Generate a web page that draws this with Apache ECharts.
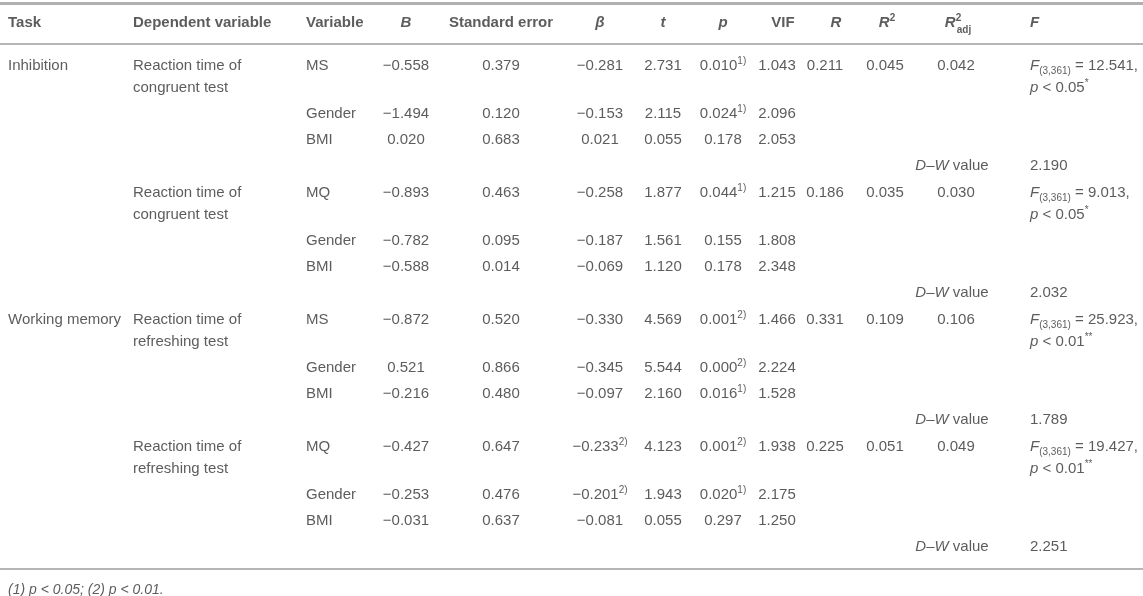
<!DOCTYPE html>
<html>
<head>
<meta charset="utf-8">
<script src="https://cdn.jsdelivr.net/npm/echarts@6/dist/echarts.min.js"></script>
<style>
  html, body { margin: 0; padding: 0; background: #fff; }
  #main { width: 1143px; height: 596px; }
</style>
</head>
<body>
<div id="main"></div>
<script>
// table content
const tasks = ['Inhibition', '', 'Working memory', ''];
const dependents = [
  'Reaction time of\ncongruent test',
  'Reaction time of\ncongruent test',
  'Reaction time of\nrefreshing test',
  'Reaction time of\nrefreshing test'
];
const firstVar = ['MS', 'MQ', 'MS', 'MQ'];
const otherVars = ['Gender', 'BMI'];
const coefB = [[-0.558, -1.494, 0.020], [-0.893, -0.782, -0.588], [-0.872, 0.521, -0.216], [-0.427, -0.253, -0.031]];
const stdErr = [[0.379, 0.120, 0.683], [0.463, 0.095, 0.014], [0.520, 0.866, 0.480], [0.647, 0.476, 0.637]];
const beta = [[-0.281, -0.153, 0.021], [-0.258, -0.187, -0.069], [-0.330, -0.345, -0.097], [-0.233, -0.201, -0.081]];
const betaNote = [[0, 0, 0], [0, 0, 0], [0, 0, 0], [2, 2, 0]];
const tVals = [[2.731, 2.115, 0.055], [1.877, 1.561, 1.120], [4.569, 5.544, 2.160], [4.123, 1.943, 0.055]];
const pVals = [[0.010, 0.024, 0.178], [0.044, 0.155, 0.178], [0.001, 0.000, 0.016], [0.001, 0.020, 0.297]];
const pNote = [[1, 1, 0], [1, 0, 0], [2, 2, 1], [2, 1, 0]];
const vif = [[1.043, 2.096, 2.053], [1.215, 1.808, 2.348], [1.466, 2.224, 1.528], [1.938, 2.175, 1.250]];
const rVals = [0.211, 0.186, 0.331, 0.225];
const r2Vals = [0.045, 0.035, 0.109, 0.051];
const r2AdjVals = [0.042, 0.030, 0.106, 0.049];
const fVals = [12.541, 9.013, 25.923, 19.427];
const fDf = '(3,361)';
const fP = ['0.05', '0.05', '0.01', '0.01'];
const fStars = ['*', '*', '**', '**'];
const dwVals = [2.190, 2.032, 1.789, 2.251];
const footnote = '(1) p < 0.05; (2) p < 0.01.';

const FONT = '"Liberation Sans", Arial, Helvetica, sans-serif';
const INK = '#333';

// column layout: x of value cells, hx for header when it differs
const cols = {
  task: { x: 8, align: 'left' },
  dep: { x: 133, align: 'left' },
  vari: { x: 306, align: 'left' },
  b: { x: 406, align: 'center' },
  se: { x: 501, align: 'center' },
  beta: { x: 600, align: 'center' },
  t: { x: 663, align: 'center' },
  p: { x: 723, align: 'center' },
  vif: { x: 777, hx: 783, align: 'center' },
  r: { x: 825, hx: 836, align: 'center' },
  r2: { x: 885, hx: 887, align: 'center' },
  r2adj: { x: 956, hx: 958, align: 'center' },
  f: { x: 1030, align: 'left' }
};

const base = { fontFamily: FONT, fontSize: 15, color: INK, lineHeight: 20 };
const RICH = {
  rg: Object.assign({}, base),
  it: Object.assign({}, base, { fontStyle: 'italic' }),
  bd: Object.assign({}, base, { fontWeight: 'bold' }),
  bi: Object.assign({}, base, { fontWeight: 'bold', fontStyle: 'italic' }),
  sp: { fontFamily: FONT, fontSize: 10, color: INK, verticalAlign: 'top' },
  spb: { fontFamily: FONT, fontSize: 10, color: INK, fontWeight: 'bold', verticalAlign: 'top' },
  sb: { fontFamily: FONT, fontSize: 10, color: INK, verticalAlign: 'bottom' },
  sbb: { fontFamily: FONT, fontSize: 10, color: INK, fontWeight: 'bold' },
  fn: { fontFamily: FONT, fontSize: 14, color: INK, fontStyle: 'italic' }
};

function fmt(v) {
  return (v < 0 ? '\u2212' : '') + Math.abs(v).toFixed(3);
}
function note(n) {
  return n ? '{sp|' + n + ')}' : '';
}

const cells = [];
function cell(col, y, text, extra, head) {
  const c = cols[col];
  cells.push({
    value: [head && c.hx ? c.hx : c.x, y],
    label: Object.assign({ formatter: () => text, align: c.align }, extra || {})
  });
}

// header
const headerY = 23;
cell('task', headerY, '{bd|Task}');
cell('dep', headerY, '{bd|Dependent variable}');
cell('vari', headerY, '{bd|Variable}');
cell('b', headerY, '{bi|B}');
cell('se', headerY, '{bd|Standard error}');
cell('beta', headerY, '{bi|\u03b2}');
cell('t', headerY, '{bi|t}');
cell('p', headerY, '{bi|p}');
cell('vif', headerY, '{bd|VIF}', null, true);
cell('r', headerY, '{bi|R}', null, true);
cell('r2', headerY, '{bi|R}{spb|2}', null, true);
cell('r2adj', headerY, '{bi|R}{spb|2}', { offset: [-5, 0] }, true);
cell('r2adj', headerY, '{sbb|adj}', { offset: [6, 7] }, true);
cell('f', headerY, '{bi|F}');

// body
const LINE = 22;
tasks.forEach((task, k) => {
  const y0 = 66 + 127 * k;
  const rowY = [y0, y0 + 48, y0 + 74];
  if (task) cell('task', y0, '{rg|' + task + '}');
  dependents[k].split('\n').forEach((ln, i) => cell('dep', y0 + i * LINE, '{rg|' + ln + '}'));
  const vars = [firstVar[k]].concat(otherVars);
  vars.forEach((v, j) => {
    const y = rowY[j];
    cell('vari', y, '{rg|' + v + '}');
    cell('b', y, '{rg|' + fmt(coefB[k][j]) + '}');
    cell('se', y, '{rg|' + fmt(stdErr[k][j]) + '}');
    cell('beta', y, '{rg|' + fmt(beta[k][j]) + '}' + note(betaNote[k][j]));
    cell('t', y, '{rg|' + fmt(tVals[k][j]) + '}');
    cell('p', y, '{rg|' + fmt(pVals[k][j]) + '}' + note(pNote[k][j]));
    cell('vif', y, '{rg|' + fmt(vif[k][j]) + '}');
  });
  cell('r', y0, '{rg|' + fmt(rVals[k]) + '}');
  cell('r2', y0, '{rg|' + fmt(r2Vals[k]) + '}');
  cell('r2adj', y0, '{rg|' + fmt(r2AdjVals[k]) + '}');
  cell('f', y0, '{it|F}{sb|' + fDf + '}{rg| = ' + fVals[k].toFixed(3) + ',}');
  cell('f', y0 + LINE, '{it|p}{rg| < ' + fP[k] + '}{sp|' + fStars[k] + '}');
  const dwY = y0 + 100;
  cell('r2adj', dwY, '{it|D\u2013W}{rg| value}', { offset: [-4, 0] });
  cell('f', dwY, '{rg|' + dwVals[k].toFixed(3) + '}');
});

cell('task', 590, '{fn|' + footnote + '}');

const chart = echarts.init(document.getElementById('main'), null, { renderer: 'canvas' });
chart.setOption({
  animation: false,
  backgroundColor: '#fff',
  grid: { left: 0, right: 0, top: 0, bottom: 0 },
  xAxis: { type: 'value', min: 0, max: 1143, show: false },
  yAxis: { type: 'value', min: 0, max: 596, inverse: true, show: false },
  series: [{
    type: 'scatter',
    symbolSize: 0.01,
    itemStyle: { color: 'transparent' },
    silent: true,
    label: {
      show: true,
      position: 'inside',
      verticalAlign: 'middle',
      rich: RICH
    },
    data: cells,
    markLine: {
      silent: true,
      symbol: ['none', 'none'],
      label: { show: false },
      lineStyle: { color: '#b5b5b5', width: 2, type: 'solid' },
      data: [
        { yAxis: 3, lineStyle: { width: 3, color: '#b0b0b0' } },
        { yAxis: 44 },
        { yAxis: 569 }
      ]
    }
  }]
});
</script>
</body>
</html>
